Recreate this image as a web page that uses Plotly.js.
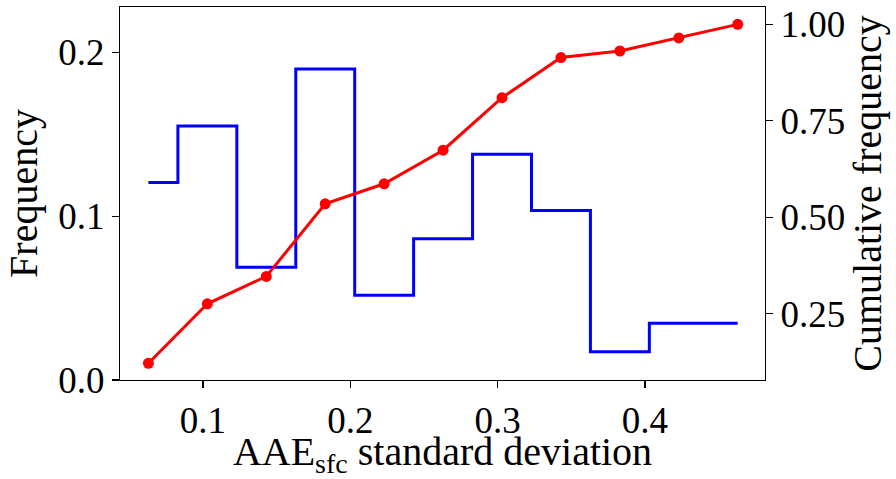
<!DOCTYPE html>
<html>
<head>
<meta charset="utf-8">
<script src="https://cdn.plot.ly/plotly-3.0.1.min.js"></script>
<style>html,body{margin:0;padding:0;background:#fff;}#chart{width:896px;height:479px;}</style>
</head>
<body>
<div id="chart"></div>
<script>
const binCenters = [0.063, 0.103, 0.143, 0.183, 0.223, 0.263, 0.303, 0.343, 0.383, 0.423, 0.463];
const frequency = [0.1205, 0.1551, 0.0689, 0.1898, 0.0517, 0.0862, 0.1378, 0.1035, 0.0173, 0.0346, 0.0346];
const cumulative = [0.122, 0.276, 0.347, 0.535, 0.587, 0.674, 0.810, 0.914, 0.931, 0.965, 1.0];
const xTicks = [0.1, 0.2, 0.3, 0.4];
const yTicks = [0.0, 0.1, 0.2];
const y2Ticks = [0.25, 0.50, 0.75, 1.00];

const fam = '"Liberation Serif", "DejaVu Serif", serif';
const tickFont = {family: fam, size: 37, color: '#000'};
const titleFont = {family: fam, size: 40, color: '#000'};

const traces = [
  {x: binCenters, y: frequency, type: 'scatter', mode: 'lines',
   line: {color: '#0000ff', width: 3, shape: 'hvh'}, yaxis: 'y', showlegend: false, hoverinfo: 'skip'},
  {x: binCenters, y: cumulative, type: 'scatter', mode: 'lines+markers',
   line: {color: '#ff0000', width: 3}, marker: {color: '#ff0000', size: 11},
   yaxis: 'y2', showlegend: false, hoverinfo: 'skip'}
];

const layout = {
  width: 896, height: 479,
  margin: {l: 120, r: 131, t: 7, b: 99},
  paper_bgcolor: '#fff', plot_bgcolor: '#fff',
  font: tickFont,
  showlegend: false,
  xaxis: {
    range: [0.0437, 0.4815], tickvals: xTicks, ticktext: xTicks.map(v => v.toFixed(1)),
    showline: true, linecolor: '#000', linewidth: 1.2, mirror: true,
    ticks: 'outside', ticklen: 7, tickwidth: 1.2, tickcolor: '#000',
    showgrid: false, zeroline: false, tickfont: tickFont,
    title: {text: 'AAE<sub>sfc</sub> standard deviation', font: titleFont, standoff: 10}
  },
  yaxis: {
    range: [0, 0.2277], tickvals: yTicks, ticktext: yTicks.map(v => v.toFixed(1)),
    showline: true, linecolor: '#000', linewidth: 1.2,
    ticks: 'outside', ticklen: 7, tickwidth: 1.2, tickcolor: '#000',
    showgrid: false, zeroline: false, tickfont: tickFont,
    title: {text: 'Frequency', font: titleFont, standoff: 8}
  },
  yaxis2: {
    range: [0.0786, 1.045], tickvals: y2Ticks, ticktext: y2Ticks.map(v => v.toFixed(2)),
    overlaying: 'y', side: 'right',
    showline: true, linecolor: '#000', linewidth: 1.2,
    ticks: 'outside', ticklen: 7, tickwidth: 1.2, tickcolor: '#000',
    showgrid: false, zeroline: false, tickfont: tickFont,
    title: {text: 'Cumulative frequency', font: titleFont, standoff: 6}
  }
};

Plotly.newPlot('chart', traces, layout, {staticPlot: true, displayModeBar: false});
</script>
</body>
</html>
